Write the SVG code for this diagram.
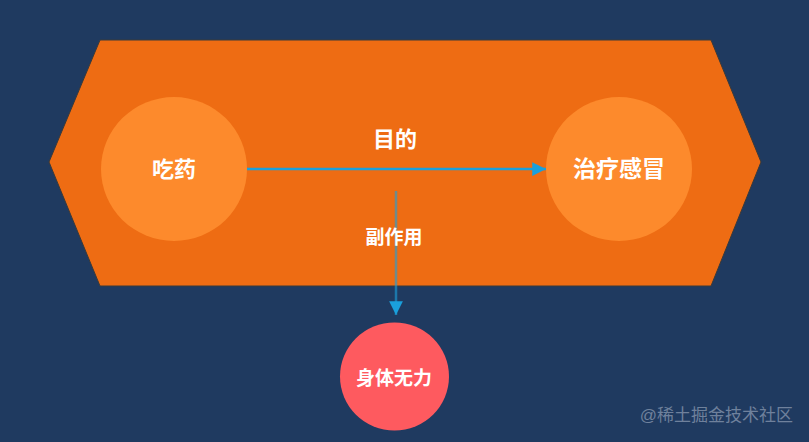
<svg xmlns="http://www.w3.org/2000/svg" width="809" height="442" viewBox="0 0 809 442">
<defs>
<style>
.lbl{font-family:"Liberation Sans","Noto Sans CJK SC",sans-serif;font-weight:bold;fill:#ffffff;text-anchor:middle;dominant-baseline:central}
.edge{stroke:#1aa0dc;stroke-width:2.5;fill:none}
.wm{font-family:"Liberation Sans","Noto Sans CJK SC",sans-serif;font-size:17px;fill:#6f819c;text-anchor:end;dominant-baseline:central}
</style>
<marker id="ah" viewBox="0 0 10 10" refX="10" refY="5" markerWidth="5.5" markerHeight="5.5" orient="auto" markerUnits="strokeWidth">
<path d="M0,0 L10,5 L0,10 z" fill="#1aa0dc"/>
</marker>
</defs>
<rect width="809" height="442" fill="#1f3a60"/>
<g id="container">
<polygon points="100,40 711,40 761,162 711,286 100,286 49,162" fill="#ee6c13" stroke="#3a3a3a" stroke-width="1"/>
</g>
<g id="node-chiyao">
<ellipse cx="174" cy="169" rx="73" ry="72" fill="#fd8a2c"/>
<text class="lbl" x="174" y="169" font-size="22">吃药</text>
</g>
<g id="node-zhiliao">
<ellipse cx="619" cy="169" rx="73" ry="72" fill="#fd8a2c"/>
<text class="lbl" x="619" y="169" font-size="23">治疗感冒</text>
</g>
<g id="node-wuli">
<ellipse cx="394.5" cy="376.5" rx="54.5" ry="54" fill="#fe5a5f"/>
<text class="lbl" x="394" y="378" font-size="19">身体无力</text>
</g>
<g id="connectors">
<line class="edge" x1="247" y1="169" x2="546" y2="169" marker-end="url(#ah)"/>
<line class="edge" x1="396" y1="191" x2="396" y2="315" stroke-opacity="0.6" marker-end="url(#ah)"/>
<text class="lbl" x="395" y="139" font-size="22">目的</text>
<text class="lbl" x="394" y="237" font-size="19">副作用</text>
</g>
<text class="wm" x="793" y="415">@稀土掘金技术社区</text>
</svg>
